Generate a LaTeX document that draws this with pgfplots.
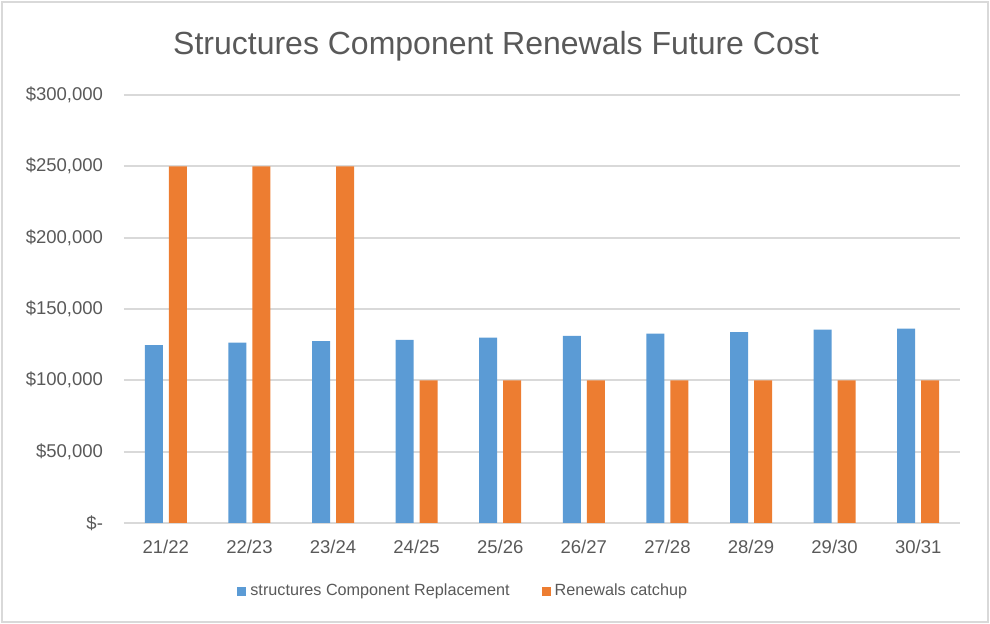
\documentclass[border=0pt]{standalone}
\usepackage{pgfplots}
\pgfplotsset{compat=1.18}
\usepackage{fontspec}
\setmainfont{Liberation Sans}
\definecolor{cblue}{HTML}{5B9BD5}
\definecolor{corange}{HTML}{ED7D31}
\definecolor{ctext}{HTML}{595959}
\definecolor{cgrid}{HTML}{D9D9D9}
\begin{document}
\begin{tikzpicture}
\useasboundingbox (-62pt,-50.5pt) rectangle (433pt,261.5pt);
\draw[cgrid, line width=0.9pt] (-61pt,-49.5pt) rectangle (432pt,260.5pt);
\begin{axis}[
  at={(0pt,0pt)}, anchor=south west,
  scale only axis,
  width=418pt, height=214pt,
  ybar=3pt, bar width=9pt,
  xmin=-0.5, xmax=9.5,
  ymin=0, ymax=300000,
  scaled y ticks=false,
  xtick={0,...,9},
  xticklabels={21/22,22/23,23/24,24/25,25/26,26/27,27/28,28/29,29/30,30/31},
  ytick={0,50000,100000,150000,200000,250000,300000},
  yticklabels={\$-\hspace{5.5pt},\$50{,}000,\$100{,}000,\$150{,}000,\$200{,}000,\$250{,}000,\$300{,}000},
  major tick length=0pt,
  ymajorgrids,
  grid style={cgrid, line width=0.9pt},
  axis x line*=bottom,
  axis y line*=left,
  y axis line style={draw=none},
  x axis line style={cgrid, line width=0.9pt},
  tick label style={font=\fontsize{9.25}{11}\selectfont, text=ctext},
  xticklabel style={yshift=-5pt},
  yticklabel style={xshift=-7pt},
  legend style={at={(0.407,-0.159)}, anchor=center, draw=none, fill=none,
    font=\fontsize{8.1}{10}\selectfont, text=ctext,
    legend columns=2, /tikz/every even column/.append style={column sep=14pt}},
  legend image code/.code={\fill[#1] (0pt,-2.25pt) rectangle (4.5pt,2.25pt);},
]
\addplot[fill=cblue, draw=none] coordinates {(0,124600) (1,126500) (2,127400) (3,128400) (4,130000) (5,131100) (6,132800) (7,133700) (8,135600) (9,136300)};
\addplot[fill=corange, draw=none] coordinates {(0,250000) (1,250000) (2,250000) (3,100000) (4,100000) (5,100000) (6,100000) (7,100000) (8,100000) (9,100000)};
\legend{structures Component Replacement, Renewals catchup}
\end{axis}
\node[text=ctext, font=\fontsize{16}{19}\selectfont] at (186pt,238.5pt) {Structures Component Renewals Future Cost};
\end{tikzpicture}
\end{document}
